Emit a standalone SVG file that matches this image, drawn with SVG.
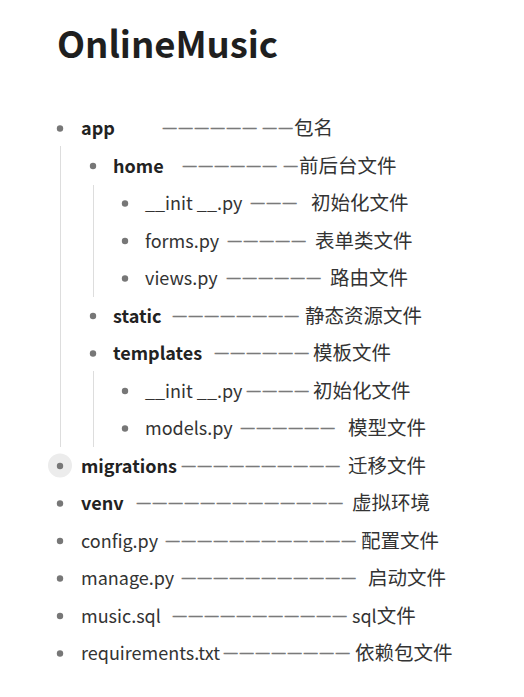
<svg xmlns="http://www.w3.org/2000/svg" width="524" height="697" viewBox="0 0 524 697">
<style>
text{font-family:"Noto Sans CJK SC","Source Sans Pro","Noto Sans",sans-serif;fill:#333;font-size:18px}
.t{font-size:36.5px;font-weight:700;fill:#1f1f1f}
.b{font-weight:700;fill:#222}
.d{font-family:"Liberation Sans",Arial,sans-serif;font-size:13.3px;letter-spacing:2.7px;fill:#7a7a7a;stroke:#7a7a7a;stroke-width:0.7px}
.c{font-size:19.5px}
.bul{fill:#777}
.g{stroke:#ddd;stroke-width:1}
</style>
<rect width="524" height="697" fill="#fff"/>
<text class="t" x="57" y="58" textLength="221">OnlineMusic</text>
<g id="guides">
<line class="g" x1="60.5" y1="146" x2="60.5" y2="447"/>
<line class="g" x1="93.5" y1="185" x2="93.5" y2="297"/>
<line class="g" x1="93.5" y1="371" x2="93.5" y2="447"/>
</g>
<g id="app"><circle class="bul" cx="60" cy="128.5" r="3.2"/><text class="b" x="81" y="135">app</text><text class="d" x="163" y="132">——————</text><text class="d" x="263" y="132">——</text><text class="c" x="294" y="135">包名</text></g>
<g id="home"><circle class="bul" cx="93" cy="166" r="3.2"/><text class="b" x="113" y="172.5">home</text><text class="d" x="183" y="169.5">——————</text><text class="d" x="284" y="169.5">—</text><text class="c" x="299" y="172.5">前后台文件</text></g>
<g id="init1"><circle class="bul" cx="125" cy="203.5" r="3.2"/><text x="145" y="210">__init __.py</text><text class="d" x="251" y="207">———</text><text class="c" x="311" y="210">初始化文件</text></g>
<g id="forms"><circle class="bul" cx="125" cy="241" r="3.2"/><text x="145" y="247.5">forms.py</text><text class="d" x="228" y="244.5">—————</text><text class="c" x="315" y="247.5">表单类文件</text></g>
<g id="views"><circle class="bul" cx="125" cy="278.5" r="3.2"/><text x="145" y="285">views.py</text><text class="d" x="227" y="282">——————</text><text class="c" x="330" y="285">路由文件</text></g>
<g id="static"><circle class="bul" cx="93" cy="316" r="3.2"/><text class="b" x="113" y="322.5">static</text><text class="d" x="173" y="319.5">————————</text><text class="c" x="305" y="322.5">静态资源文件</text></g>
<g id="templates"><circle class="bul" cx="93" cy="353.5" r="3.2"/><text class="b" x="113" y="360">templates</text><text class="d" x="215" y="357">——————</text><text class="c" x="313" y="360">模板文件</text></g>
<g id="init2"><circle class="bul" cx="125" cy="391" r="3.2"/><text x="145" y="397.5">__init __.py</text><text class="d" x="247" y="394.5">————</text><text class="c" x="313" y="397.5">初始化文件</text></g>
<g id="models"><circle class="bul" cx="125" cy="428.5" r="3.2"/><text x="145" y="435">models.py</text><text class="d" x="241" y="432">——————</text><text class="c" x="348" y="435">模型文件</text></g>
<g id="migrations"><circle cx="60" cy="465.5" r="12" fill="#ececec"/><circle class="bul" cx="60" cy="466" r="3.2"/><text class="b" x="81" y="472.5">migrations</text><text class="d" x="182" y="469.5">——————————</text><text class="c" x="348" y="472.5">迁移文件</text></g>
<g id="venv"><circle class="bul" cx="60" cy="503.5" r="3.2"/><text class="b" x="81" y="510">venv</text><text class="d" x="137" y="507">—————————————</text><text class="c" x="352" y="510">虚拟环境</text></g>
<g id="config"><circle class="bul" cx="60" cy="541" r="3.2"/><text x="81" y="547.5">config.py</text><text class="d" x="166" y="544.5">————————————</text><text class="c" x="361" y="547.5">配置文件</text></g>
<g id="manage"><circle class="bul" cx="60" cy="578.5" r="3.2"/><text x="81" y="585">manage.py</text><text class="d" x="182" y="582">———————————</text><text class="c" x="368" y="585">启动文件</text></g>
<g id="music"><circle class="bul" cx="60" cy="616" r="3.2"/><text x="81" y="622.5">music.sql</text><text class="d" x="173" y="619.5">———————————</text><text x="352" y="622.5">sql<tspan class="c">文件</tspan></text></g>
<g id="requirements"><circle class="bul" cx="60" cy="653.5" r="3.2"/><text x="81" y="660">requirements.txt</text><text class="d" x="224" y="657">————————</text><text class="c" x="355" y="660">依赖包文件</text></g>
</svg>
